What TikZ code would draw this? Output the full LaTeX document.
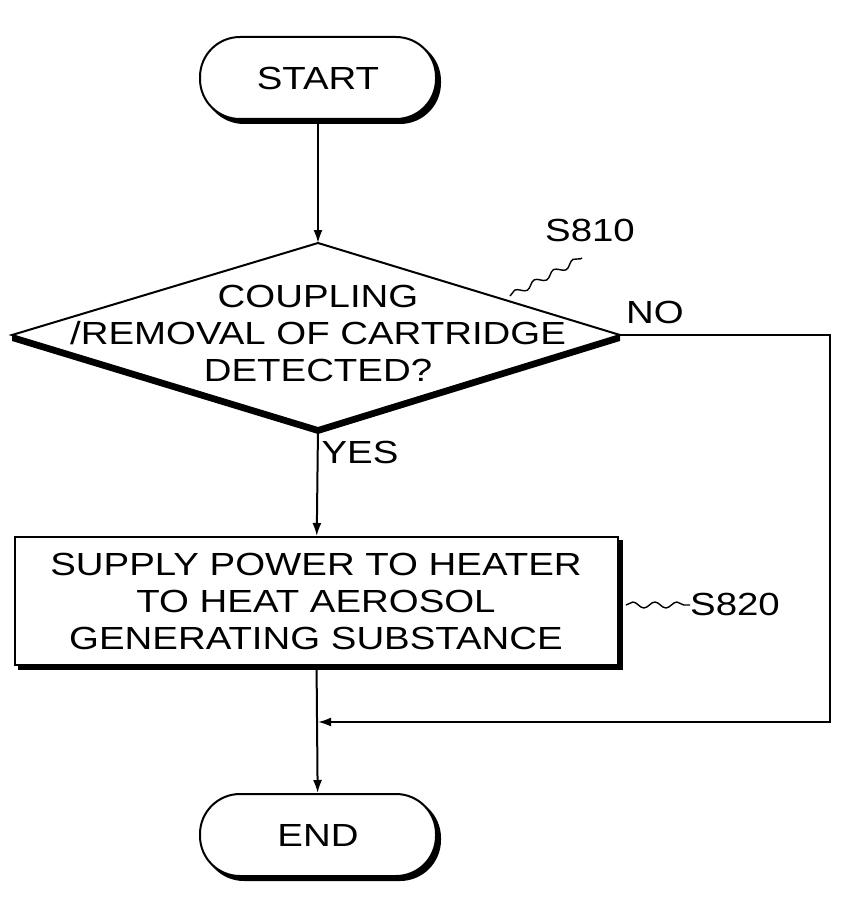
\documentclass[tikz,border=0pt]{standalone}
\usepackage{fontspec}
\setmainfont[FakeStretch=1.2]{Liberation Sans}
\usetikzlibrary{shapes.geometric,positioning,calc,decorations.pathmorphing,arrows.meta}

\begin{document}
\begin{tikzpicture}[x=1pt,y=-1pt]

    \tikzstyle{term}=[draw,line width=2pt,rounded corners=40pt,minimum width=236pt,minimum height=82pt,font=\fontsize{32}{36}\selectfont,fill=white]
    \tikzstyle{proc}=[draw,line width=2pt,minimum width=603pt,minimum height=128pt,align=center,font=\fontsize{32}{37}\selectfont,fill=white]
    \tikzstyle{flow}=[line width=2pt,-{Latex[length=13pt,width=9pt]}]
    \tikzstyle{lbl}=[font=\fontsize{32}{36}\selectfont]
    \tikzstyle{wave}=[line width=1.4pt,decorate,decoration={snake,amplitude=3pt,segment length=22pt}]

\useasboundingbox (0,0) rectangle (846,920);

% terminals
\node (start_shadow) [term,fill=black] at (322,82) {};
\node (start) [term] at (318,78) {START};
\node (end_shadow) [term,fill=black] at (322,839) {};
\node (end) [term] at (318,835) {END};

% decision
\coordinate (d_top) at (318,243);
\coordinate (d_left) at (12,335);
\coordinate (d_right) at (620,335);
\coordinate (d_bot) at (318,428);
\fill (d_left) -- (d_bot) -- (d_right) -- ([yshift=-6pt]d_right) -- ([yshift=-6pt]d_bot) -- ([yshift=-6pt]d_left) -- cycle;
\draw[line width=2pt,fill=white] (d_top) -- (d_right) -- (d_bot) -- (d_left) -- cycle;
\node (decide) [lbl,align=center,font=\fontsize{32}{37}\selectfont] at (318,333) {COUPLING\\/REMOVAL OF CARTRIDGE\\DETECTED?};

% process
\node (heat_shadow) [proc,fill=black] at (320,605) {};
\node (heat) [proc] at (316,601) {SUPPLY POWER TO HEATER\\TO HEAT AEROSOL\\GENERATING SUBSTANCE};

% labels
\node (s810) [lbl] at (590,230) {S810};
\node (s820) [lbl] at (735,604) {S820};
\node (no) [lbl] at (655,312) {NO};
\node (yes) [lbl] at (360,452) {YES};
\draw[wave] (510,296) -- (582,258);
\draw[wave] (626,605) -- (690,605);

% connectors
\coordinate (join) at (318,722);
\coordinate (corner_top) at (830,335);
\coordinate (corner_bot) at (830,722);
\draw[flow] (start) -- (d_top);
\draw[flow] (d_bot) -- (heat);
\draw[flow] (heat) -- (end);
\draw[flow] (d_right) -- (corner_top) -- (corner_bot) -- (join);

\end{tikzpicture}
\end{document}
